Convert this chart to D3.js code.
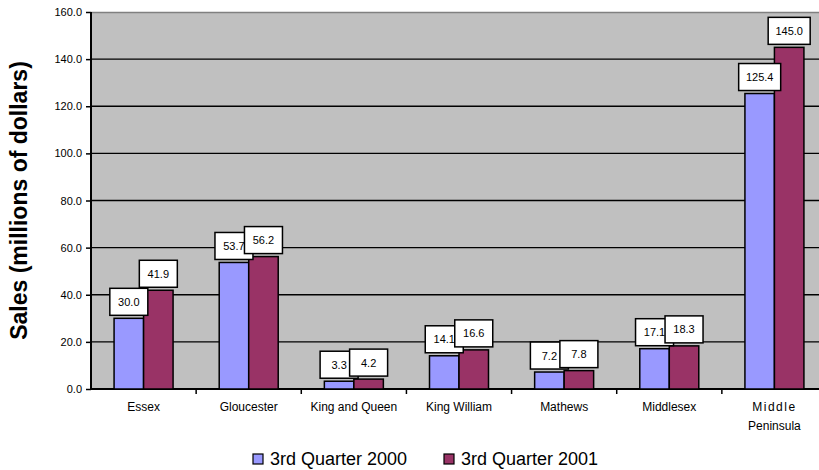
<!DOCTYPE html>
<html>
<head>
<meta charset="utf-8">
<script src="https://cdn.jsdelivr.net/npm/d3@7"></script>
<style>
body { margin: 0; background: #fff; }
text { font-family: Arial, "Liberation Sans", sans-serif; }
</style>
</head>
<body>
<svg id="canvas" width="819" height="470"></svg>
<script>
// data
var categories = ["Essex", "Gloucester", "King and Queen", "King William", "Mathews", "Middlesex", "Middle Peninsula"];
var seriesNames = ["3rd Quarter 2000", "3rd Quarter 2001"];
var q2000 = [30.0, 53.7, 3.3, 14.1, 7.2, 17.1, 125.4];
var q2001 = [41.9, 56.2, 4.2, 16.6, 7.8, 18.3, 145.0];
var yTicks = [0, 20, 40, 60, 80, 100, 120, 140, 160];

var colors = ["#9999ff", "#993366"];
var values = [q2000, q2001];

function draw(){

    var svg = d3.select("#canvas");

    var plot_l = 91, plot_r = 827, plot_t = 12, plot_b = 389;

    var x = d3.scaleBand().domain(categories).range([plot_l, plot_r]).paddingInner(0).paddingOuter(0);
    var barW = 29.5;
    var x1 = d3.scaleBand().domain(seriesNames).range([0, barW * 2]);
    var y = d3.scaleLinear().domain([0, 160]).range([plot_b, plot_t]);

    // plot area
    svg.append("rect")
        .attr("x", plot_l).attr("y", plot_t)
        .attr("width", plot_r - plot_l).attr("height", plot_b - plot_t)
        .style("fill", "#c0c0c0");

    svg.append("line")
        .attr("x1", plot_l).attr("x2", plot_r)
        .attr("y1", plot_t + 0.5).attr("y2", plot_t + 0.5)
        .style("stroke", "#808080").style("stroke-width", 1.5);

    // gridlines
    svg.selectAll(".grid")
        .data(yTicks.slice(1, -1))
        .enter().append("line")
        .attr("x1", plot_l).attr("x2", plot_r)
        .attr("y1", function(d){ return y(d); })
        .attr("y2", function(d){ return y(d); })
        .style("stroke", "#000").style("stroke-width", 1.3);

    // y axis
    var yAxis = d3.axisLeft(y).tickValues(yTicks).tickSize(5).tickPadding(4)
        .tickFormat(d3.format(".1f"));
    var gy = svg.append("g").attr("transform", "translate(" + plot_l + ",0)").call(yAxis);
    gy.select(".domain").attr("d", "M0," + plot_t + "V" + plot_b).style("stroke-width", 2);
    gy.selectAll(".tick line").style("stroke-width", 1.5);
    gy.selectAll("text").style("font-size", "11px").style("fill", "#000")
        .style("font-family", "Arial, 'Liberation Sans', sans-serif");

    // x axis
    var gx = svg.append("g").attr("transform", "translate(0," + plot_b + ")");
    gx.append("line").attr("x1", plot_l).attr("x2", plot_r).attr("y1", 0).attr("y2", 0)
        .style("stroke", "#000").style("stroke-width", 2);
    gx.selectAll(".xt")
        .data(categories.slice(1))
        .enter().append("line")
        .attr("x1", function(d){ return x(d); })
        .attr("x2", function(d){ return x(d); })
        .attr("y1", 0).attr("y2", 5)
        .style("stroke", "#000").style("stroke-width", 1.5);

    var lab = gx.selectAll(".xl")
        .data(categories)
        .enter().append("text")
        .attr("x", function(d){ return x(d) + x.bandwidth() / 2; })
        .attr("y", 22)
        .attr("text-anchor", "middle")
        .style("font-size", "12px");
    lab.each(function(d){
        var t = d3.select(this);
        var words = d === "Middle Peninsula" ? ["Middle", "Peninsula"] : [d];
        words.forEach(function(w, i){
            t.append("tspan")
                .attr("x", x(d) + x.bandwidth() / 2)
                .attr("dy", i === 0 ? 0 : 19)
                .style("letter-spacing", w === "Middle" ? "1.5px" : null)
                .text(w);
        });
    });

    // bars
    var off = (x.bandwidth() - barW * 2) / 2;
    values.forEach(function(vals, s){
        svg.selectAll(".bar" + s)
            .data(vals)
            .enter().append("rect")
            .attr("x", function(d, i){ return x(categories[i]) + off + x1(seriesNames[s]); })
            .attr("y", function(d){ return y(d); })
            .attr("width", x1.bandwidth())
            .attr("height", function(d){ return y(0) - y(d); })
            .style("fill", colors[s])
            .style("stroke", "#000")
            .style("stroke-width", 1.5);
    });

    // data labels
    values.forEach(function(vals, s){
        vals.forEach(function(d, i){
            var cx = x(categories[i]) + off + x1(seriesNames[s]) + x1.bandwidth() / 2;
            var txt = d.toFixed(1);
            var w = txt.length > 4 ? 42 : 38;
            var h = 27;
            var by = y(d) - 3 - h;
            svg.append("rect")
                .attr("x", cx - w / 2).attr("y", by)
                .attr("width", w).attr("height", h)
                .style("fill", "#fff").style("stroke", "#000").style("stroke-width", 1.5);
            svg.append("text")
                .attr("x", cx).attr("y", by + h / 2 + 4)
                .attr("text-anchor", "middle")
                .style("font-size", "11px")
                .text(txt);
        });
    });

    // y title
    svg.append("text")
        .attr("transform", "translate(27," + ((plot_t + plot_b) / 2) + ") rotate(-90)")
        .attr("text-anchor", "middle")
        .style("font-size", "23px")
        .style("font-weight", "bold")
        .text("Sales (millions of dollars)");

    // legend
    var legX = [253, 444];
    seriesNames.forEach(function(n, s){
        svg.append("rect")
            .attr("x", legX[s]).attr("y", 454)
            .attr("width", 10).attr("height", 10)
            .style("fill", colors[s]).style("stroke", "#000").style("stroke-width", 1.2);
        svg.append("text")
            .attr("x", legX[s] + 17).attr("y", 465)
            .style("font-size", "18px")
            .text(n);
    });
}

draw();
</script>
</body>
</html>
